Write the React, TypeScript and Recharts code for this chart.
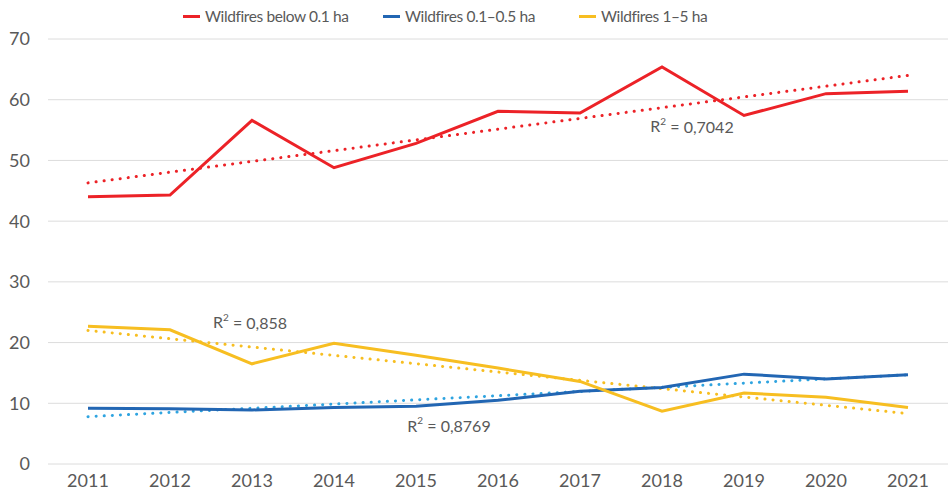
import { CartesianGrid, Line, LineChart, ReferenceDot, XAxis, YAxis } from "recharts";

const years = ["2011", "2012", "2013", "2014", "2015", "2016", "2017", "2018", "2019", "2020", "2021"];
const below01 = [44.0, 44.3, 56.6, 48.8, 52.8, 58.1, 57.8, 65.4, 57.4, 61.0, 61.4];
const from01to05 = [9.2, 9.1, 8.9, 9.3, 9.5, 10.5, 12.0, 12.6, 14.8, 14.0, 14.7];
const from1to5 = [22.7, 22.1, 16.5, 19.9, 17.9, 15.8, 13.6, 8.7, 11.7, 11.0, 9.3];

// trend lines: only the end points are read, the line joins them
const below01Trend = [46.3, null, null, null, null, null, null, null, null, null, 64.0];
const from01to05Trend = [7.8, null, null, null, null, null, null, null, null, null, 14.7];
const from1to5Trend = [22.0, null, null, null, null, null, null, null, null, null, 8.3];

const yTicks = [0, 10, 20, 30, 40, 50, 60, 70];

const data = years.map((year, i) => ({
  year,
  below01: below01[i],
  from01to05: from01to05[i],
  from1to5: from1to5[i],
  below01Trend: below01Trend[i],
  from01to05Trend: from01to05Trend[i],
  from1to5Trend: from1to5Trend[i],
}));

const RED = "#ec2227";
const BLUE = "#2266b3";
const LIGHT_BLUE = "#2fa4e0";
const YELLOW = "#f7be21";
const TEXT = "#595959";
const FONT = "Lato, 'Open Sans', sans-serif";

const legend = [
  { label: "Wildfires below 0.1 ha", color: RED, left: 183 },
  { label: "Wildfires 0.1–0.5 ha", color: BLUE, left: 383 },
  { label: "Wildfires 1–5 ha", color: YELLOW, left: 579 },
];

function R2Label({ viewBox, text, dx }: { viewBox?: { x: number; y: number }; text: string; dx: number }) {
  if (!viewBox) return null;
  return (
    <text x={viewBox.x + dx} y={viewBox.y} textAnchor="middle" dominantBaseline="central" fill={TEXT} fontSize={16} fontFamily={FONT}>
      R<tspan dy={-5} fontSize={10}>2</tspan>
      <tspan dy={5}> = {text}</tspan>
    </text>
  );
}

export default function App() {
  return (
    <div style={{ position: "absolute", left: 0, top: 0, width: 948, height: 495, background: "#fff" }}>
      <LineChart width={948} height={495} data={data} margin={{ top: 39, right: 0, bottom: 0, left: 0 }}>
        <CartesianGrid vertical={false} stroke="#dcdcdc" strokeWidth={1} />
        <XAxis
          dataKey="year"
          axisLine={false}
          tickLine={false}
          tickSize={0}
          tickMargin={10}
          height={31}
          padding={{ left: 40, right: 40 }}
          tick={{ fill: TEXT, fontSize: 18, fontFamily: FONT }}
        />
        <YAxis
          domain={[0, 70]}
          ticks={yTicks}
          axisLine={false}
          tickLine={false}
          tickSize={0}
          tickMargin={18}
          width={48}
          tick={{ fill: TEXT, fontSize: 18, fontFamily: FONT }}
        />
        <Line dataKey="below01Trend" stroke={RED} strokeWidth={3} strokeDasharray="0.1 8" strokeLinecap="round" dot={false} connectNulls isAnimationActive={false} />
        <Line dataKey="from01to05Trend" stroke={LIGHT_BLUE} strokeWidth={3} strokeDasharray="0.1 8" strokeLinecap="round" dot={false} connectNulls isAnimationActive={false} />
        <Line dataKey="from1to5Trend" stroke={YELLOW} strokeWidth={3} strokeDasharray="0.1 8" strokeLinecap="round" dot={false} connectNulls isAnimationActive={false} />
        <Line dataKey="below01" stroke={RED} strokeWidth={3} dot={false} isAnimationActive={false} />
        <Line dataKey="from01to05" stroke={BLUE} strokeWidth={3} dot={false} isAnimationActive={false} />
        <Line dataKey="from1to5" stroke={YELLOW} strokeWidth={3} dot={false} isAnimationActive={false} />
        <ReferenceDot x="2018" y={55.7} r={0} ifOverflow="visible" label={<R2Label text="0,7042" dx={30} />} />
        <ReferenceDot x="2013" y={23.4} r={0} ifOverflow="visible" label={<R2Label text="0,858" dx={-2} />} />
        <ReferenceDot x="2015" y={6.4} r={0} ifOverflow="visible" label={<R2Label text="0,8769" dx={33} />} />
      </LineChart>
      {legend.map((item) => (
        <div
          key={item.label}
          style={{
            position: "absolute",
            top: 6,
            left: item.left,
            display: "flex",
            alignItems: "center",
            gap: 5,
            fontFamily: FONT,
            fontSize: 15.5,
            letterSpacing: -0.4,
            color: TEXT,
            lineHeight: "20px",
            whiteSpace: "nowrap",
          }}
        >
          <span style={{ display: "inline-block", width: 17, height: 3, background: item.color }} />
          <span>{item.label}</span>
        </div>
      ))}
    </div>
  );
}
